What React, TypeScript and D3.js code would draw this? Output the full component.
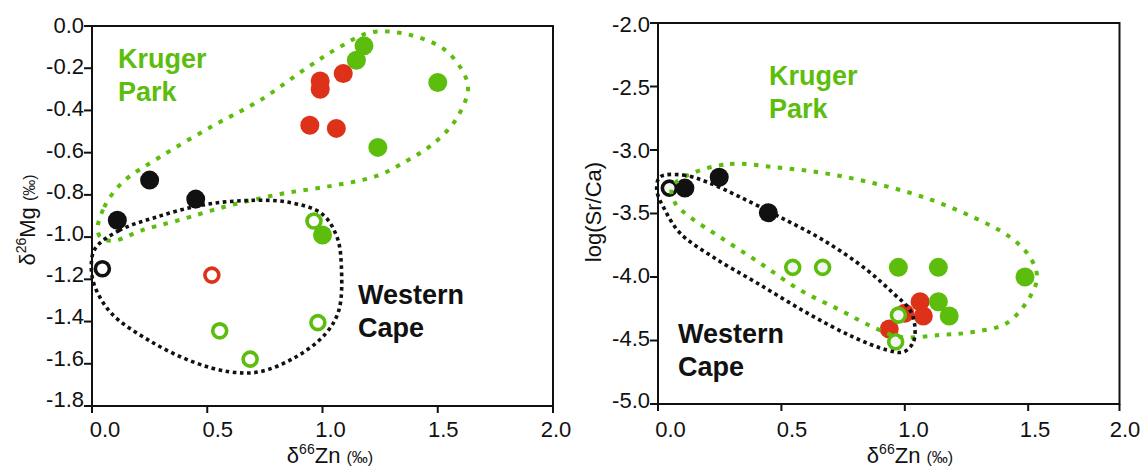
import React, { useRef, useEffect } from 'react';
import * as d3 from 'd3';

// ---- data: [δ66Zn, y] ----
const mgBlack = [[0.11, -0.92], [0.25, -0.73], [0.45, -0.82]];
const mgBlackOpen = [[0.045, -1.15]];
const mgRed = [[0.99, -0.26], [0.99, -0.3], [1.09, -0.225], [0.945, -0.47], [1.06, -0.485]];
const mgRedOpen = [[0.52, -1.18]];
const mgGreen = [[1.18, -0.094], [1.147, -0.162], [1.5, -0.268], [1.24, -0.575], [1.0, -0.99]];
const mgGreenOpen = [[0.963, -0.924], [0.554, -1.444], [0.98, -1.405], [0.686, -1.578]];

const srBlack = [[0.109, -3.3], [0.248, -3.215], [0.447, -3.494]];
const srBlackOpen = [[0.046, -3.3]];
const srRed = [[1.0, -4.286], [1.062, -4.195], [1.075, -4.307], [0.937, -4.41]];
const srGreen = [[0.974, -3.924], [1.136, -3.924], [1.487, -4.0], [1.136, -4.195], [1.18, -4.307]];
const srGreenOpen = [[0.546, -3.924], [0.667, -3.924], [0.974, -4.3], [0.963, -4.51]];

// outlines (hand drawn groups in the original)
const mgKrugerHull = [
  [0.024, -0.969], [0.053, -0.858], [0.133, -0.74], [0.293, -0.622], [0.526, -0.472],
  [0.726, -0.354], [0.934, -0.197], [1.071, -0.102], [1.207, -0.031], [1.367, -0.039],
  [1.527, -0.11], [1.615, -0.228], [1.631, -0.307], [1.575, -0.449], [1.479, -0.559],
  [1.367, -0.638], [1.239, -0.709], [1.046, -0.756], [0.822, -0.795], [0.598, -0.85],
  [0.373, -0.921], [0.213, -0.969], [0.101, -1.016], [0.045, -1.008],
];
const mgCapeHull = [
  [0.013, -1.055], [0.117, -0.969], [0.277, -0.906], [0.47, -0.85], [0.662, -0.827],
  [0.854, -0.835], [0.998, -0.89], [1.063, -1.0], [1.082, -1.142], [1.071, -1.346],
  [1.014, -1.457], [0.886, -1.567], [0.726, -1.638], [0.598, -1.638], [0.438, -1.591],
  [0.245, -1.488], [0.085, -1.362], [0.013, -1.236], [-0.003, -1.142],
];
const srKrugerHull = [
  [0.142, -3.181], [0.292, -3.11], [0.466, -3.134], [0.669, -3.181], [0.871, -3.26],
  [1.074, -3.37], [1.276, -3.528], [1.426, -3.685], [1.507, -3.843], [1.536, -4.0],
  [1.507, -4.157], [1.414, -4.362], [1.276, -4.433], [1.143, -4.457], [0.981, -4.472],
  [0.871, -4.394], [0.737, -4.26], [0.575, -4.102], [0.413, -3.89], [0.251, -3.685],
  [0.13, -3.528], [0.069, -3.417], [0.057, -3.291],
];
const srCapeHull = [
  [0.008, -3.213], [0.101, -3.197], [0.199, -3.252], [0.332, -3.37], [0.494, -3.528],
  [0.669, -3.709], [0.847, -3.945], [0.952, -4.126], [1.021, -4.26], [1.041, -4.394],
  [1.033, -4.52], [0.993, -4.591], [0.928, -4.575], [0.79, -4.472], [0.604, -4.283],
  [0.401, -4.047], [0.223, -3.843], [0.089, -3.654], [0.028, -3.472], [-0.005, -3.315],
];

const xTicks = [0, 0.5, 1.0, 1.5, 2.0];
const xTickLabels = ['0.0', '0.5', '1.0', '1.5', '2.0'];
// right panel is cropped: its "2.0" label sits on the frame edge
const srXTicks = [0, 0.5, 1.0, 1.5, 1.87];
const mgYTicks = [0, -0.2, -0.4, -0.6, -0.8, -1.0, -1.2, -1.4, -1.6, -1.8];
const srYTicks = [-2.0, -2.5, -3.0, -3.5, -4.0, -4.5, -5.0];

const GREEN = '#5cbd0c';
const RED = '#de3119';
const BLACK = '#111';
const FONT = '"Liberation Sans", Arial, Helvetica, sans-serif';

const drawPanel = (svg, p) => {
  const x = d3.scaleLinear().domain(p.xDomain).range(p.xRange);
  const y = d3.scaleLinear().domain(p.yDomain).range(p.yRange);
  const g = svg.append('g');

  // frame
  g.append('rect')
    .attr('x', x(p.xDomain[0])).attr('y', y(p.yDomain[0]))
    .attr('width', x(p.xDomain[1]) - x(p.xDomain[0]))
    .attr('height', y(p.yDomain[1]) - y(p.yDomain[0]))
    .attr('fill', 'none').attr('stroke', BLACK).attr('stroke-width', 2);

  // x ticks
  const xl = d3.scaleLinear().domain([p.xTicks[0], p.xTicks[4]])
    .range([x(p.xTicks[0]) + p.xLabelShift[0], x(p.xTicks[4]) + p.xLabelShift[1]]);
  p.xTicks.forEach((t, i) => {
    g.append('line').attr('x1', x(t)).attr('x2', x(t))
      .attr('y1', y(p.yDomain[1])).attr('y2', y(p.yDomain[1]) + 7)
      .attr('stroke', BLACK).attr('stroke-width', 2);
    g.append('text').attr('x', xl(t)).attr('y', 437)
      .attr('text-anchor', 'middle').attr('font-size', 22).attr('font-family', FONT)
      .attr('fill', BLACK).text(xTickLabels[i]);
  });

  // y ticks
  const yl = d3.scaleLinear().domain([p.yTicks[0], p.yTicks[p.yTicks.length - 1]])
    .range([y(p.yTicks[0]) + p.yLabelShift[0], y(p.yTicks[p.yTicks.length - 1]) + p.yLabelShift[1]]);
  p.yTicks.forEach((t) => {
    g.append('line').attr('x1', x(p.xDomain[0]) - 8).attr('x2', x(p.xDomain[0]))
      .attr('y1', y(t)).attr('y2', y(t))
      .attr('stroke', BLACK).attr('stroke-width', 2);
    g.append('text').attr('x', x(p.xDomain[0]) - 8).attr('y', yl(t))
      .attr('dy', '0.36em')
      .attr('text-anchor', 'end').attr('font-size', 22).attr('font-family', FONT)
      .attr('fill', BLACK).text(t.toFixed(1));
  });

  // x title
  const xt = g.append('text').attr('x', p.xTitleX).attr('y', 463)
    .attr('text-anchor', 'middle').attr('font-family', FONT).attr('fill', BLACK)
    .attr('font-size', 22);
  xt.append('tspan').text('δ');
  xt.append('tspan').attr('font-size', 14).attr('dy', -9).text('66');
  xt.append('tspan').attr('dy', 9).text('Zn ');
  xt.append('tspan').attr('font-size', 16).text('(‰)');

  // y title
  const yt = g.append('text')
    .attr('transform', `translate(${p.yTitle[0]},${p.yTitle[1]}) rotate(-90)`)
    .attr('text-anchor', 'middle').attr('font-family', FONT).attr('fill', BLACK)
    .attr('font-size', 22);
  p.yTitleParts(yt);

  // points
  const dots = (data, color, open) => {
    g.append('g').selectAll('circle').data(data).enter().append('circle')
      .attr('cx', (d) => x(d[0])).attr('cy', (d) => y(d[1]))
      .attr('r', open ? 7 : 9.5)
      .attr('fill', open ? p.openFill : color)
      .attr('stroke', open ? color : 'none')
      .attr('stroke-width', open ? 3.6 : 0);
  };
  dots(p.red, RED, false);
  dots(p.green, GREEN, false);
  dots(p.black, BLACK, false);
  dots(p.redOpen, RED, true);
  dots(p.greenOpen, GREEN, true);
  dots(p.blackOpen, BLACK, true);

  // group outlines
  const line = d3.line().x((d) => x(d[0])).y((d) => y(d[1]))
    .curve(d3.curveCatmullRomClosed.alpha(0.5));
  g.append('path').attr('d', line(p.krugerHull)).attr('fill', 'none')
    .attr('stroke', GREEN).attr('stroke-width', 4).attr('stroke-dasharray', '4.5,7.5');
  g.append('path').attr('d', line(p.capeHull)).attr('fill', 'none')
    .attr('stroke', BLACK).attr('stroke-width', 3.6).attr('stroke-dasharray', '3.6,3.6');

  // labels
  const label = (pos, lines, color) => {
    const t = g.append('text').attr('x', x(pos[0])).attr('y', y(pos[1]))
      .attr('font-family', FONT).attr('font-weight', 'bold').attr('font-size', 27)
      .attr('fill', color);
    lines.forEach((s, i) => {
      t.append('tspan').attr('x', x(pos[0])).attr('dy', i === 0 ? 0 : 33).text(s);
    });
  };
  label(p.krugerLabel, ['Kruger', 'Park'], GREEN);
  label(p.capeLabel, ['Western', 'Cape'], BLACK);
};

const App = () => {
  const svgRef = useRef(null);

  useEffect(() => {
    const svg = d3.select(svgRef.current);
    svg.selectAll('*').remove();

    drawPanel(svg, {
      xDomain: [0, 2], xRange: [92, 553],
      yDomain: [0, -1.8], yRange: [26, 406],
      xTicks, xLabelShift: [13, 3],
      yTicks: mgYTicks, yLabelShift: [-1.3, -6.5],
      xTitleX: 330, yTitle: [35, 220],
      yTitleParts: (t) => {
        t.append('tspan').text('δ');
        t.append('tspan').attr('font-size', 14).attr('dy', -9).text('26');
        t.append('tspan').attr('dy', 9).text('Mg ');
        t.append('tspan').attr('font-size', 16).text('(‰)');
      },
      black: mgBlack, blackOpen: mgBlackOpen, red: mgRed, redOpen: mgRedOpen,
      green: mgGreen, greenOpen: mgGreenOpen, openFill: '#fff',
      krugerHull: mgKrugerHull, capeHull: mgCapeHull,
      krugerLabel: [0.113, -0.2], capeLabel: [1.154, -1.317],
    });

    drawPanel(svg, {
      xDomain: [0, 1.87], xRange: [658, 1119.5],
      yDomain: [-2, -5], yRange: [23, 404],
      xTicks: srXTicks, xLabelShift: [12.5, 5.5],
      yTicks: srYTicks, yLabelShift: [1.5, -3.5],
      xTitleX: 910, yTitle: [601, 212],
      yTitleParts: (t) => { t.append('tspan').text('log(Sr/Ca)'); },
      black: srBlack, blackOpen: srBlackOpen, red: srRed, redOpen: [],
      green: srGreen, greenOpen: srGreenOpen, openFill: '#f1f6f0',
      krugerHull: srKrugerHull, capeHull: srCapeHull,
      krugerLabel: [0.45, -2.488], capeLabel: [0.081, -4.52],
    });
  }, []);

  return (
    <svg ref={svgRef} width={1143} height={468}
      style={{ position: 'absolute', left: 0, top: 0, background: '#fff' }} />
  );
};

export default App;
